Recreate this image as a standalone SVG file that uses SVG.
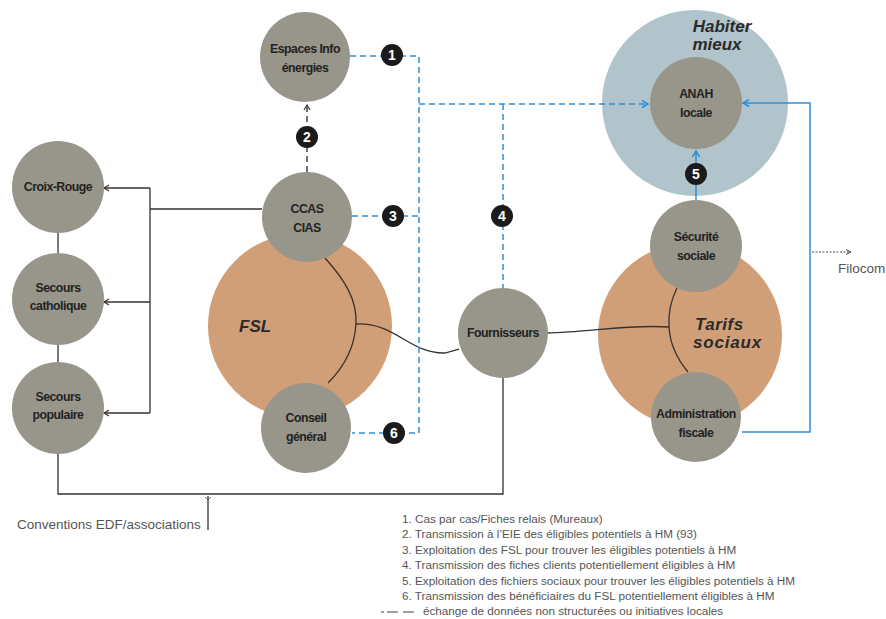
<svg xmlns="http://www.w3.org/2000/svg" width="886" height="619" viewBox="0 0 886 619">
<defs>
<style>
.node{fill:#98968a}
.big-o{fill:#d09e77}
.big-b{fill:#b1c4cc}
.nt{font-family:"Liberation Sans",Arial,sans-serif;font-weight:bold;font-size:12.3px;fill:#222;text-anchor:middle;letter-spacing:-0.5px}
.bt{font-family:"Liberation Sans",Arial,sans-serif;font-weight:bold;font-style:italic;font-size:17px;fill:#2a2a2a}
.blk{fill:none;stroke:#333;stroke-width:1.3}
.bd{fill:none;stroke:#2f8fd6;stroke-width:1.5;stroke-dasharray:6 4}
.bs{fill:none;stroke:#2f8fd6;stroke-width:1.5}
.gd{fill:none;stroke:#444;stroke-width:1.5;stroke-dasharray:6 4}
.badge{fill:#1b1b1b}
.bn{font-family:"Liberation Sans",Arial,sans-serif;font-weight:bold;font-size:14px;fill:#fff;text-anchor:middle}
.lg{font-family:"Liberation Sans",Arial,sans-serif;font-size:11.7px;fill:#555}
.lab{font-family:"Liberation Sans",Arial,sans-serif;font-size:13.5px;fill:#555}
</style>
<marker id="ak" markerWidth="8" markerHeight="8" refX="6" refY="4" orient="auto" markerUnits="userSpaceOnUse">
<path d="M1,1 L6,4 L1,7" fill="none" stroke="#333" stroke-width="1.2"/>
</marker>
<marker id="ab" markerWidth="9" markerHeight="9" refX="7" refY="4.5" orient="auto" markerUnits="userSpaceOnUse">
<path d="M1,1 L7,4.5 L1,8" fill="none" stroke="#2f8fd6" stroke-width="1.5"/>
</marker>
<marker id="ag" markerWidth="8" markerHeight="8" refX="6" refY="4" orient="auto" markerUnits="userSpaceOnUse">
<path d="M1,1 L6,4 L1,7" fill="none" stroke="#444" stroke-width="1.3"/>
</marker>
<marker id="ad" markerWidth="8" markerHeight="8" refX="6" refY="4" orient="auto" markerUnits="userSpaceOnUse">
<path d="M1,1.5 L6,4 L1,6.5" fill="none" stroke="#444" stroke-width="1"/>
</marker>
</defs>
<rect width="886" height="619" fill="#fff"/>

<g id="habiter-mieux">
<circle class="big-b" cx="695" cy="103" r="93"/>
<text class="bt" x="722" y="32" text-anchor="middle">Habiter</text>
<text class="bt" x="717" y="50" text-anchor="middle">mieux</text>
</g>
<g id="fsl">
<circle class="big-o" cx="300" cy="326" r="92"/>
<text class="bt" x="239" y="332">FSL</text>
</g>
<g id="tarifs-sociaux">
<circle class="big-o" cx="690" cy="335" r="92"/>
<text class="bt" x="695" y="330" letter-spacing="0.5">Tarifs</text>
<text class="bt" x="693" y="348" letter-spacing="0.8">sociaux</text>
</g>

<g id="connectors">
<path class="blk" d="M262,209 L150,209"/>
<path class="blk" d="M150,188 L150,413"/>
<path class="blk" d="M150,188 L104,188" marker-end="url(#ak)"/>
<path class="blk" d="M150,302 L104,302" marker-end="url(#ak)"/>
<path class="blk" d="M150,413 L104,413" marker-end="url(#ak)"/>
<path class="blk" d="M58,232 L58,255 M58,344 L58,362"/>
<path class="blk" d="M503,378 L503,494 L58,494 L58,453"/>
<path class="blk" d="M208,496 L208,530" stroke-width="1.1"/>
<path d="M205,497 L208,500 L211,497" fill="none" stroke="#555" stroke-width="0.8"/>
<path class="blk" d="M325,258 C345,280 357,300 356,323 C355,348 343,368 328,383"/>
<path class="blk" d="M356,324 C395,322 410,354 445,353 L459,349"/>
<path class="blk" d="M677,288 C671,300 668,312 669,327 C670,345 678,360 688,372"/>
<path class="blk" d="M547,333 C590,332 630,324 669,327"/>
<path class="gd" d="M307,172 L307,105" marker-end="url(#ag)"/>
<path class="bd" d="M350,56 L419,56 L419,433 L352,433"/>
<path class="bd" d="M352,216 L419,216"/>
<path class="bd" d="M419,104 L648,104" marker-end="url(#ab)"/>
<path class="bd" d="M503,104 L503,288"/>
<path class="bs" d="M742,432 L810,432 L810,103 L743,103" marker-end="url(#ab)"/>
<path class="bs" d="M696,200 L696,151" marker-end="url(#ab)"/>
<path d="M812,252 L851,252" fill="none" stroke="#444" stroke-width="1" stroke-dasharray="2 1.5" marker-end="url(#ad)"/>
</g>

<g id="badge-1"><circle class="badge" cx="392" cy="55" r="11"/><text class="bn" x="392" y="60">1</text></g>
<g id="badge-2"><circle class="badge" cx="307" cy="137" r="11"/><text class="bn" x="307" y="142">2</text></g>
<g id="badge-3"><circle class="badge" cx="393" cy="216" r="11"/><text class="bn" x="393" y="221">3</text></g>
<g id="badge-4"><circle class="badge" cx="502" cy="216" r="11"/><text class="bn" x="502" y="221">4</text></g>
<g id="badge-5"><circle class="badge" cx="696" cy="174" r="11"/><text class="bn" x="696" y="179">5</text></g>
<g id="badge-6"><circle class="badge" cx="394" cy="433" r="11"/><text class="bn" x="394" y="438">6</text></g>

<g id="espaces-info"><circle class="node" cx="305" cy="57" r="45"/><text class="nt" x="305" y="53">Espaces Info</text><text class="nt" x="305" y="72">énergies</text></g>
<g id="ccas"><circle class="node" cx="307" cy="217" r="45"/><text class="nt" x="307" y="213">CCAS</text><text class="nt" x="307" y="232">CIAS</text></g>
<g id="conseil-general"><circle class="node" cx="306" cy="428" r="45"/><text class="nt" x="306" y="422">Conseil</text><text class="nt" x="306" y="441">général</text></g>
<g id="fournisseurs"><circle class="node" cx="503" cy="333" r="45"/><text class="nt" x="503" y="337">Fournisseurs</text></g>
<g id="anah"><circle class="node" cx="696" cy="103" r="46"/><text class="nt" x="696" y="98">ANAH</text><text class="nt" x="696" y="117">locale</text></g>
<g id="securite-sociale"><circle class="node" cx="696" cy="246" r="46"/><text class="nt" x="696" y="241">Sécurité</text><text class="nt" x="696" y="260">sociale</text></g>
<g id="administration-fiscale"><circle class="node" cx="696" cy="417" r="45"/><text class="nt" x="696" y="418">Administration</text><text class="nt" x="696" y="437">fiscale</text></g>
<g id="croix-rouge"><circle class="node" cx="58" cy="187" r="46"/><text class="nt" x="58" y="191">Croix-Rouge</text></g>
<g id="secours-catholique"><circle class="node" cx="58" cy="299" r="46"/><text class="nt" x="58" y="292">Secours</text><text class="nt" x="58" y="310">catholique</text></g>
<g id="secours-populaire"><circle class="node" cx="58" cy="408" r="46"/><text class="nt" x="58" y="401">Secours</text><text class="nt" x="58" y="419">populaire</text></g>

<text class="lab" x="838" y="273">Filocom</text>
<text class="lab" x="17" y="529">Conventions EDF/associations</text>

<g id="legend">
<text class="lg" x="402" y="523">1. Cas par cas/Fiches relais (Mureaux)</text>
<text class="lg" x="402" y="538">2. Transmission à l’EIE des éligibles potentiels à HM (93)</text>
<text class="lg" x="402" y="554">3. Exploitation des FSL pour trouver les éligibles potentiels à HM</text>
<text class="lg" x="402" y="569">4. Transmission des fiches clients potentiellement éligibles à HM</text>
<text class="lg" x="402" y="585">5. Exploitation des fichiers sociaux pour trouver les éligibles potentiels à HM</text>
<text class="lg" x="402" y="600">6. Transmission des bénéficiaires du FSL potentiellement éligibles à HM</text>
<path d="M381,612 L384,612 M387,612 L398,612 M403,612 L414,612" stroke="#444" stroke-width="1.2"/>
<text class="lg" x="423" y="615">échange de données non structurées ou initiatives locales</text>
</g>
</svg>
